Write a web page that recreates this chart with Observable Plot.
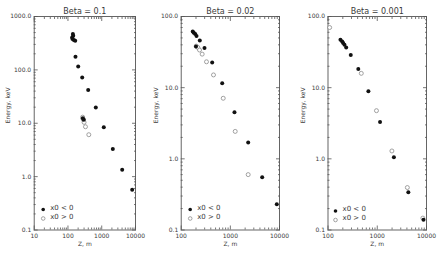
<!DOCTYPE html>
<html><head><meta charset="utf-8">
<script src="https://cdn.jsdelivr.net/npm/d3@7"></script>
<script src="https://cdn.jsdelivr.net/npm/@observablehq/plot@0.6"></script>
<style>
html,body{margin:0;padding:0;background:#fff;}
#row{display:flex;width:445px;height:255px;overflow:hidden;}
#row svg{display:block;flex:none;}
</style></head><body><div id="row"></div>
<script>
// ---- text ----
const titles = ["Beta = 0.1", "Beta = 0.02", "Beta = 0.001"];
const legendLabels = ["x0 < 0", "x0 > 0"];
const xLabel = "Z, m";
const yLabel = "Energy, keV";

// ---- tick labels ----
const xTicks1 = [10, 100, 1000, 10000];
const xTicks23 = [100, 1000, 10000];
const yTicks1 = [0.1, 1, 10, 100, 1000];
const yTicks23 = [0.1, 1, 10, 100];

// ---- Beta = 0.1 ----
const zNeg1 = [140, 143, 133, 136, 149, 164, 167, 201, 264, 397, 667, 1150, 2128, 4035, 7980, 275, 294];
const eNeg1 = [470, 436, 405, 378, 361, 351, 176, 116, 72, 42, 19.8, 8.4, 3.3, 1.34, 0.565, 12.4, 11.6];
const zPos1 = [272, 283, 300, 330, 414];
const ePos1 = [13, 11.8, 10.4, 8.6, 6.1];

// ---- Beta = 0.02 ----
const zNeg2 = [172, 180, 193, 205, 239, 298, 427, 683, 1213, 2306, 4446, 8810, 200];
const eNeg2 = [61.6, 59, 56.6, 53, 46, 36, 22.6, 11.5, 4.5, 1.7, 0.55, 0.23, 38];
const zPos2 = [202, 218, 236, 267, 327, 454, 716, 1256, 2306];
const ePos2 = [38.4, 36.7, 33.8, 29.6, 23.1, 15.1, 7.1, 2.43, 0.6];

// ---- Beta = 0.001 ----
const zNeg3 = [179, 194, 203, 216, 234, 290, 412, 661, 1140, 2178, 4276, 8690];
const eNeg3 = [47.1, 44.6, 42.3, 40.1, 36.7, 28.7, 18.3, 8.9, 3.3, 1.05, 0.34, 0.139];
const zPos3 = [108, 474, 964, 1983, 4083, 8430];
const ePos3 = [70, 15.9, 4.75, 1.29, 0.395, 0.147];

const ink = "#3a3a3a";
const axisInk = "#555";

function rows(z, e) { return z.map((v, i) => ({z: v, e: e[i]})); }

function panel({title, zNeg, eNeg, zPos, ePos, xDomain, yDomain, xTicks, yTicks, width, ml, mr, legDx, yLabDx, legDy}) {
  const xMinor = d3.scaleLog().domain(xDomain).ticks().filter(v => !xTicks.includes(v));
  const yMinor = d3.scaleLog().domain(yDomain).ticks().filter(v => !yTicks.includes(v));
  const tk = {stroke: axisInk, strokeWidth: 0.8, tickFormat: () => "", label: null};
  return Plot.plot({
    width, height: 255,
    marginLeft: ml, marginRight: mr, marginTop: 16, marginBottom: 25.5,
    style: {fontFamily: "DejaVu Sans", fontSize: "6px", color: ink, background: "white"},
    x: {type: "log", domain: xDomain},
    y: {type: "log", domain: yDomain},
    marks: [
      Plot.frame({stroke: axisInk, strokeWidth: 0.9}),
      // inward ticks on all four sides
      Plot.axisX(xTicks, {...tk, anchor: "bottom", tickSize: -4}),
      Plot.axisX(xMinor, {...tk, anchor: "bottom", tickSize: -2}),
      Plot.axisX(xTicks, {...tk, anchor: "top", tickSize: -4}),
      Plot.axisX(xMinor, {...tk, anchor: "top", tickSize: -2}),
      Plot.axisY(yTicks, {...tk, anchor: "left", tickSize: -4}),
      Plot.axisY(yMinor, {...tk, anchor: "left", tickSize: -2}),
      Plot.axisY(yTicks, {...tk, anchor: "right", tickSize: -4}),
      Plot.axisY(yMinor, {...tk, anchor: "right", tickSize: -2}),
      // tick labels
      Plot.axisX(xTicks, {anchor: "bottom", tickSize: 0, tickPadding: 3.5, tickFormat: d => String(d), label: null, fill: ink}),
      Plot.axisY(yTicks, {anchor: "left", tickSize: 0, tickPadding: 3, tickFormat: d => d.toFixed(1), label: null, fill: ink}),
      // titles
      Plot.text([title], {frameAnchor: "top", dy: -3, lineAnchor: "bottom", text: d => d, fontSize: 8, fill: ink}),
      Plot.text([xLabel], {frameAnchor: "bottom", dy: 11.5, lineAnchor: "top", text: d => d, fill: ink}),
      Plot.text([yLabel], {frameAnchor: "left", dx: yLabDx, rotate: -90, text: d => d, fill: ink}),
      // data
      Plot.dot(rows(zPos, ePos), {x: "z", y: "e", r: 2, stroke: "#8a8a8a", strokeWidth: 0.8, fill: "white"}),
      Plot.dot(rows(zNeg, eNeg), {x: "z", y: "e", r: 2, fill: "#111", stroke: "none"}),
      // legend
      Plot.dot([0], {frameAnchor: "bottom-left", dx: legDx, dy: -20.5 + legDy, r: 1.8, fill: "#111", stroke: "none"}),
      Plot.dot([0], {frameAnchor: "bottom-left", dx: legDx, dy: -11.5 + legDy, r: 1.8, stroke: "#8a8a8a", strokeWidth: 0.8, fill: "white"}),
      Plot.text([legendLabels[0]], {frameAnchor: "bottom-left", dx: legDx + 7, dy: -20.5 + legDy, textAnchor: "start", text: d => d, fontSize: 7, fill: ink}),
      Plot.text([legendLabels[1]], {frameAnchor: "bottom-left", dx: legDx + 7, dy: -11.5 + legDy, textAnchor: "start", text: d => d, fontSize: 7, fill: ink})
    ]
  });
}

const row = document.getElementById("row");
row.appendChild(panel({title: titles[0], zNeg: zNeg1, eNeg: eNeg1, zPos: zPos1, ePos: ePos1,
  xDomain: [10, 10000], yDomain: [0.1, 1000], xTicks: xTicks1, yTicks: yTicks1,
  width: 148, ml: 33.7, mr: 13, legDx: 9, yLabDx: -26, legDy: 0}));
row.appendChild(panel({title: titles[1], zNeg: zNeg2, eNeg: eNeg2, zPos: zPos2, ePos: ePos2,
  xDomain: [100, 10000], yDomain: [0.1, 100], xTicks: xTicks23, yTicks: yTicks23,
  width: 148, ml: 32.7, mr: 17, legDx: 9, yLabDx: -25, legDy: 0}));
row.appendChild(panel({title: titles[2], zNeg: zNeg3, eNeg: eNeg3, zPos: zPos3, ePos: ePos3,
  xDomain: [100, 10000], yDomain: [0.1, 100], xTicks: xTicks23, yTicks: yTicks23,
  width: 149, ml: 31.5, mr: 19, legDx: 7.5, yLabDx: -25, legDy: 1.5}));
</script>
</body></html>
